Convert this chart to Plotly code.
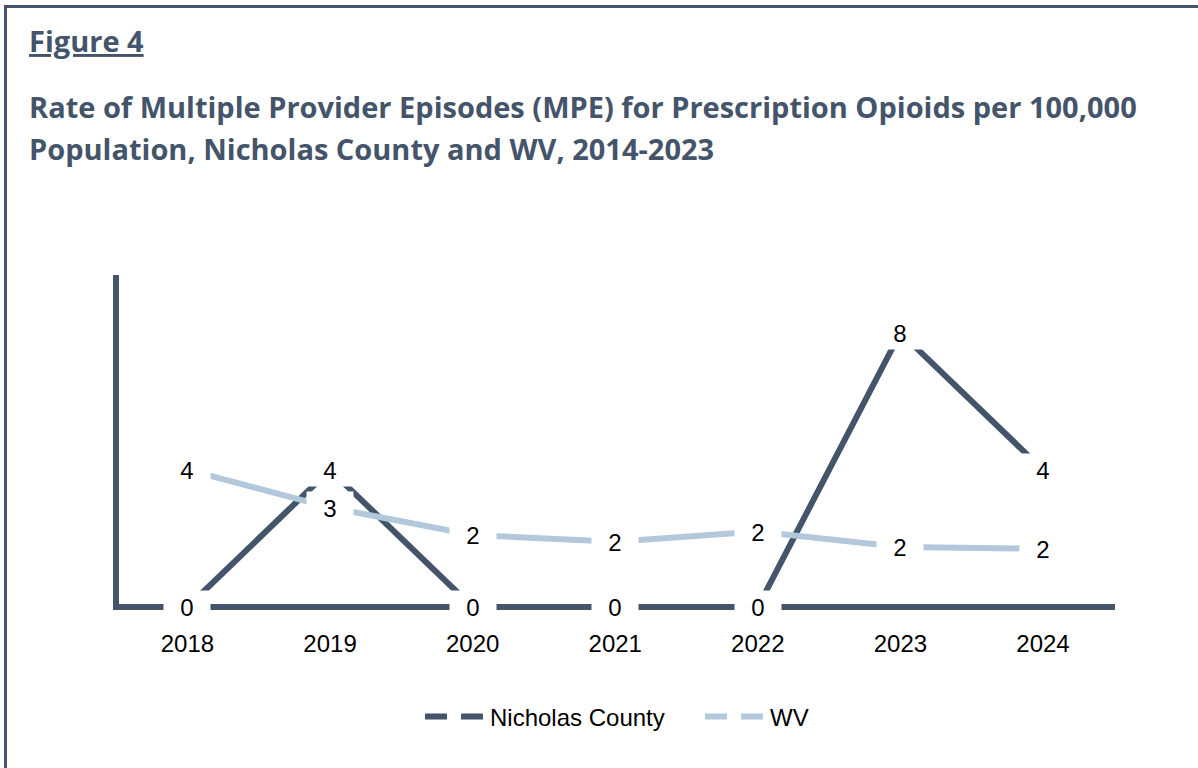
import plotly.graph_objects as go

years = ["2018", "2019", "2020", "2021", "2022", "2023", "2024"]
nicholas = [0, 4, 0, 0, 0, 8, 4]
wv = [4.0, 2.9, 2.1, 1.9, 2.2, 1.75, 1.7]

title_line0 = "Figure 4"
title_line1 = "Rate of Multiple Provider Episodes (MPE) for Prescription Opioids per 100,000"
title_line2 = "Population, Nicholas County and WV, 2014-2023"

DARK = "#44546A"
LIGHT = "#B4C8DB"
TITLE_FONT = "Open Sans"
BODY_FONT = "Liberation Sans, Arial, sans-serif"

W, H = 1198, 768
L, R, T, B = 119, 1115, 275, 610


def px_x(x):
    return (x - L) / (R - L)


def px_y(y):
    return (B - y) / (B - T)


fig = go.Figure()
fig.add_trace(go.Scatter(x=years, y=nicholas, mode="lines", name="Nicholas County",
                         line=dict(color=DARK, width=6), showlegend=False, hoverinfo="skip"))
fig.add_trace(go.Scatter(x=years, y=wv, mode="lines", name="WV",
                         line=dict(color=LIGHT, width=6), showlegend=False, hoverinfo="skip"))
# legend entries (dashed symbols as in the reference)
fig.add_trace(go.Scatter(x=[None], y=[None], mode="lines", name="Nicholas County",
                         line=dict(color=DARK, width=6, dash="22px,14px")))
fig.add_trace(go.Scatter(x=[None], y=[None], mode="lines", name="WV",
                         line=dict(color=LIGHT, width=6, dash="22px,14px")))

annotations = []
for series in (nicholas, wv):
    for i, v in enumerate(series):
        annotations.append(dict(x=i, y=v, xref="x", yref="y", text=f"{v:.0f}",
                                showarrow=False, bgcolor="white", width=44, height=30,
                                font=dict(family=BODY_FONT, size=24, color="black"),
                                xanchor="center", yanchor="middle"))

annotations.append(dict(x=px_x(27), y=px_y(41), xref="paper", yref="paper",
                        text=f"<b><u>{title_line0}</u></b>", showarrow=False,
                        xanchor="left", yanchor="middle",
                        font=dict(family=TITLE_FONT, size=29, color=DARK)))
annotations.append(dict(x=px_x(27), y=px_y(106), xref="paper", yref="paper",
                        text=f"<b>{title_line1}</b>", showarrow=False,
                        xanchor="left", yanchor="middle",
                        font=dict(family=TITLE_FONT, size=29, color=DARK)))
annotations.append(dict(x=px_x(27), y=px_y(148), xref="paper", yref="paper",
                        text=f"<b>{title_line2}</b>", showarrow=False,
                        xanchor="left", yanchor="middle",
                        font=dict(family=TITLE_FONT, size=29, color=DARK)))

shapes = [
    dict(type="line", xref="paper", yref="paper", x0=px_x(5.5), x1=px_x(W + 2),
         y0=px_y(6.5), y1=px_y(6.5), line=dict(color=DARK, width=3)),
    dict(type="line", xref="paper", yref="paper", x0=px_x(5.5), x1=px_x(5.5),
         y0=px_y(5), y1=px_y(H + 2), line=dict(color=DARK, width=3)),
]

fig.update_layout(
    width=W, height=H,
    margin=dict(l=L, r=W - R, t=T, b=H - B, pad=0, autoexpand=False),
    paper_bgcolor="white", plot_bgcolor="white",
    annotations=annotations, shapes=shapes,
    legend=dict(orientation="h", x=px_x(420), xanchor="left", y=px_y(717), yanchor="middle",
                font=dict(family=BODY_FONT, size=24, color="black"), itemwidth=60,
                entrywidth=205, bgcolor="rgba(0,0,0,0)"),
    xaxis=dict(type="category", range=[-0.48, 6.505], showgrid=False, zeroline=False,
               showline=False, ticks="",
               tickfont=dict(family=BODY_FONT, size=24, color="black"), ticklabelstandoff=17),
    yaxis=dict(range=[-0.0875, 9.68], showgrid=False, zeroline=True, zerolinewidth=6,
               zerolinecolor=DARK, showline=True,
               linewidth=6, linecolor=DARK, showticklabels=False, ticks=""),
)

fig.write_html("out.html", post_script="document.body.style.margin='0';",
               config={"displayModeBar": False})
